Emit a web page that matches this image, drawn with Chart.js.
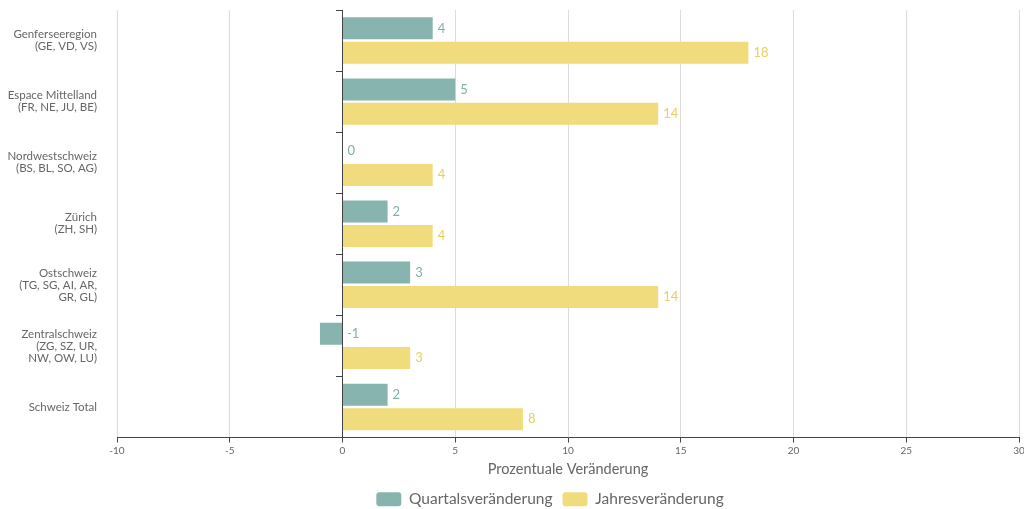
<!DOCTYPE html>
<html>
<head>
<meta charset="utf-8">
<script src="https://cdn.jsdelivr.net/npm/chart.js@4"></script>
<style>
  html, body { margin: 0; padding: 0; background: #fff; }
  #wrap { width: 1024px; height: 509px; }
</style>
</head>
<body>
<div id="wrap"><canvas id="c"></canvas></div>
<script>
const regions = [
  ["Genferseeregion", "(GE, VD, VS)"],
  ["Espace Mittelland", "(FR, NE, JU, BE)"],
  ["Nordwestschweiz", "(BS, BL, SO, AG)"],
  ["Zürich", "(ZH, SH)"],
  ["Ostschweiz", "(TG, SG, AI, AR,", "GR, GL)"],
  ["Zentralschweiz", "(ZG, SZ, UR,", "NW, OW, LU)"],
  "Schweiz Total"
];
const quartal = [4, 5, 0, 2, 3, -1, 2];
const jahr = [18, 14, 4, 4, 14, 3, 8];
const xTicks = { min: -10, max: 30, step: 5 };

const TEAL = "#87b4af";
const YELLOW = "#f0dc7c";
const FONT = "Lato, 'DejaVu Sans', sans-serif";

const valueLabels = {
  id: "valueLabels",
  afterDatasetsDraw(chart) {
    const ctx = chart.ctx;
    ctx.save();
    ctx.font = "13px " + FONT;
    ctx.textBaseline = "middle";
    ctx.textAlign = "left";
    chart.data.datasets.forEach((ds, i) => {
      const meta = chart.getDatasetMeta(i);
      meta.data.forEach((bar, j) => {
        const x = Math.max(bar.x, bar.base) + 5;
        ctx.fillStyle = ds.labelColor;
        ctx.fillText(String(ds.data[j]), x, bar.y);
      });
    });
    ctx.restore();
  }
};

// legend in the original sits a bit right of the canvas centre
const legendShift = {
  id: "legendShift",
  afterLayout(chart) {
    chart.legend.left += 38;
    chart.legend.right += 38;
  }
};

new Chart(document.getElementById("c"), {
  type: "bar",
  data: {
    labels: regions,
    datasets: [
      { label: "Quartalsveränderung", data: quartal, backgroundColor: TEAL, labelColor: "#7fb0aa",
        categoryPercentage: 0.8, barPercentage: 0.9 },
      { label: "Jahresveränderung", data: jahr, backgroundColor: YELLOW, labelColor: "#e9cf5e",
        categoryPercentage: 0.8, barPercentage: 0.9 }
    ]
  },
  options: {
    indexAxis: "y",
    responsive: true,
    maintainAspectRatio: false,
    animation: false,
    layout: { padding: { top: 0, right: 0, left: 0, bottom: -8 } },
    plugins: {
      legend: {
        position: "bottom",
        labels: {
          color: "#666",
          font: { family: FONT, size: 15.5 },
          boxWidth: 25,
          boxHeight: 14,
          padding: 10,
          useBorderRadius: true,
          borderRadius: 3
        }
      },
      tooltip: { enabled: false }
    },
    scales: {
      x: {
        type: "linear",
        min: xTicks.min,
        max: xTicks.max,
        ticks: { stepSize: xTicks.step, color: "#666", font: { family: FONT, size: 10 }, padding: 2 },
        grid: { color: "#dcdcdc", tickColor: "#444", tickLength: 5 },
        border: { color: "#444" },
        title: { display: true, text: "Prozentuale Veränderung", color: "#666",
          font: { family: FONT, size: 14.5 }, padding: { top: 0, bottom: 3 } },
        afterFit(s) { s.height = 44; s.paddingRight = 5; }
      },
      y: {
        type: "category",
        ticks: { color: "#666", font: { family: FONT, size: 11.5, lineHeight: "12px" }, padding: 12 },
        grid: { display: false },
        border: { display: false },
        afterFit(s) { s.width = 117; s.paddingTop = 10; s.paddingBottom = 0; }
      },
      y2: {
        type: "category",
        position: { x: 0 },
        offset: true,
        ticks: { display: false },
        grid: { offset: true, drawOnChartArea: false, drawTicks: true, tickLength: 6, tickColor: "#444" },
        border: { color: "#444" }
      }
    }
  },
  plugins: [valueLabels, legendShift]
});
</script>
</body>
</html>
